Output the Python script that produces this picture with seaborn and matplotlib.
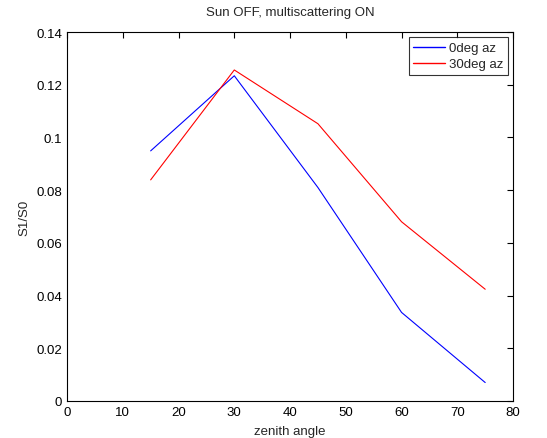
import pandas as pd
import seaborn as sns
import matplotlib.pyplot as plt
from matplotlib.lines import Line2D

zenith = [15, 30, 45, 60, 75]
s1s0_0deg = [0.0949, 0.1234, 0.0810, 0.0336, 0.0070]
s1s0_30deg = [0.0839, 0.1256, 0.1052, 0.0680, 0.0424]
labels = ['0deg az', '30deg az']
colors = ['blue', 'red']

df = pd.concat([
    pd.DataFrame({'zenith': zenith, 'S1/S0': s1s0_0deg, 'series': labels[0]}),
    pd.DataFrame({'zenith': zenith, 'S1/S0': s1s0_30deg, 'series': labels[1]}),
])

sns.set_style('white')
plt.rcParams['font.family'] = ['Liberation Sans', 'DejaVu Sans']

fig = plt.figure(figsize=(5.47, 4.39), dpi=100)
ax = fig.add_axes([0.1225, 0.0843, 0.8155, 0.8405])
sns.lineplot(data=df, x='zenith', y='S1/S0', hue='series',
             palette=dict(zip(labels, colors)),
             linewidth=0.8, ax=ax, legend=False)

ax.set_xlim(0, 80)
ax.set_ylim(0, 0.14)
ax.set_xticks(range(0, 81, 10))
ax.set_yticks([0, 0.02, 0.04, 0.06, 0.08, 0.1, 0.12, 0.14])
ax.set_yticklabels(['0', '0.02', '0.04', '0.06', '0.08', '0.1', '0.12', '0.14'])
ax.tick_params(direction='in', top=True, right=True, length=4, width=0.8,
               labelsize=9.5, colors='black')
for sp in ax.spines.values():
    sp.set_color('black')
    sp.set_linewidth(0.8)

ax.set_xlabel('zenith angle', fontsize=9.5, labelpad=5)
ax.set_ylabel('S1/S0', fontsize=9.5)
ax.set_title('Sun OFF, multiscattering ON', fontsize=9.5, pad=12)

handles = [Line2D([], [], color=c, linewidth=1.0) for c in colors]
leg = ax.legend(handles, labels, loc='upper right', fontsize=9.5, frameon=True,
                fancybox=False, edgecolor='black', borderaxespad=0.4,
                handlelength=2.4, handletextpad=0.3, borderpad=0.35,
                labelspacing=0.3)
leg.get_frame().set_linewidth(0.8)

plt.savefig('out.png', dpi=100)
